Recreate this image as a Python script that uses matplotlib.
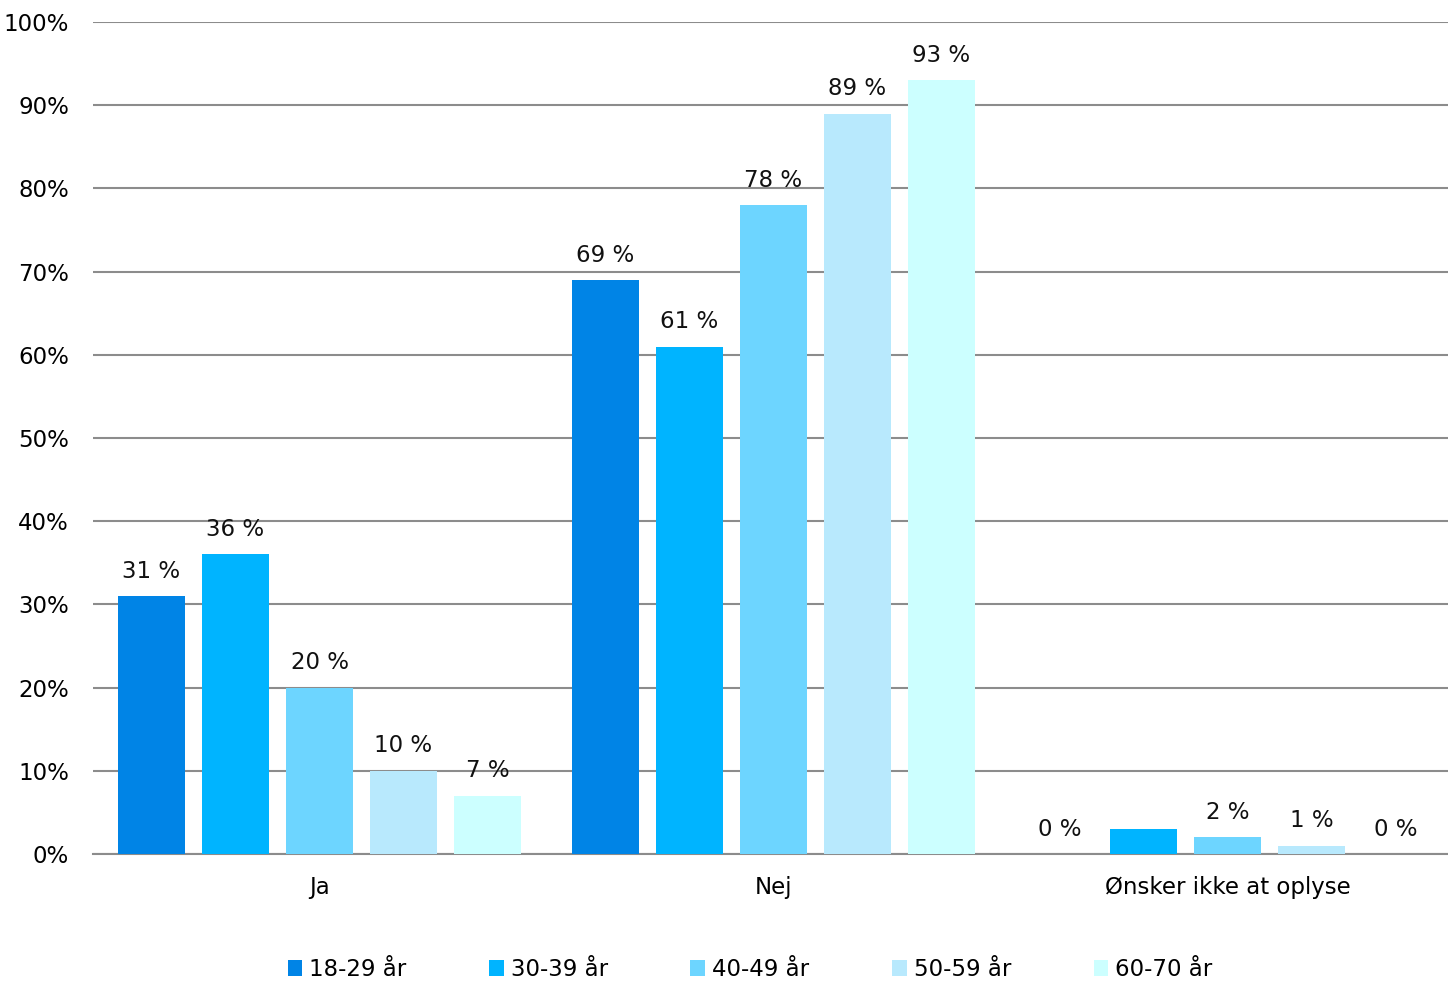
import matplotlib
matplotlib.use("Agg")
import matplotlib.pyplot as plt
import numpy as np

categories = ["Ja", "Nej", "Ønsker ikke at oplyse"]
age_groups = ["18-29 år", "30-39 år", "40-49 år", "50-59 år", "60-70 år"]
values = [
    [31, 69, 0],   # 18-29
    [36, 61, 3],   # 30-39
    [20, 78, 2],   # 40-49
    [10, 89, 1],   # 50-59
    [7, 93, 0],    # 60-70
]
# label shown above each bar (the 3 % bar in the last group has none)
labels = [
    ["31 %", "69 %", "0 %"],
    ["36 %", "61 %", ""],
    ["20 %", "78 %", "2 %"],
    ["10 %", "89 %", "1 %"],
    ["7 %", "93 %", "0 %"],
]
colors = ["#0084E6", "#00B4FF", "#6DD5FF", "#B8E9FD", "#CCFFFF"]
yticks = [0, 10, 20, 30, 40, 50, 60, 70, 80, 90, 100]

plt.rcParams['font.family'] = ['DejaVu Sans']
fig = plt.figure(figsize=(14.48, 9.81), dpi=100)
ax = fig.add_axes([0.0639, 0.1295, 0.9406, 0.848])

x = np.arange(len(categories))
step = 0.185
width = 0.148
for i, (vals, lab, col) in enumerate(zip(values, labels, colors)):
    pos = x + (i - 2) * step
    bars = ax.bar(pos, vals, width, color=col, label=age_groups[i], zorder=3)
    for b, t in zip(bars, lab):
        if t:
            ax.text(b.get_x() + b.get_width() / 2, b.get_height() + 1.6, t,
                    ha="center", va="bottom", fontsize=16.5, color="#111111")

ax.set_xlim(-0.5, 2.5)
ax.set_ylim(0, 100)
ax.set_yticks(yticks)
ax.set_yticklabels([f"{v}%" for v in yticks], fontsize=16.5)
ax.set_xticks(x)
ax.set_xticklabels(categories, fontsize=16.5)
ax.tick_params(axis="both", length=0)
ax.tick_params(axis="y", pad=17)
ax.tick_params(axis="x", pad=16)
ax.yaxis.grid(True, color="#8c8c8c", linewidth=1.5, zorder=0)
for s in ["top", "right", "left"]:
    ax.spines[s].set_visible(False)
ax.spines["bottom"].set_color("#8c8c8c")
ax.spines["bottom"].set_linewidth(1.5)

fig.legend(loc="lower center", bbox_to_anchor=(0.518, -0.021), ncol=5, frameon=False,
           fontsize=16.5, handlelength=0.65, handleheight=0.65, handletextpad=0.3,
           columnspacing=3.6)

fig.savefig("out.png", dpi=100)
